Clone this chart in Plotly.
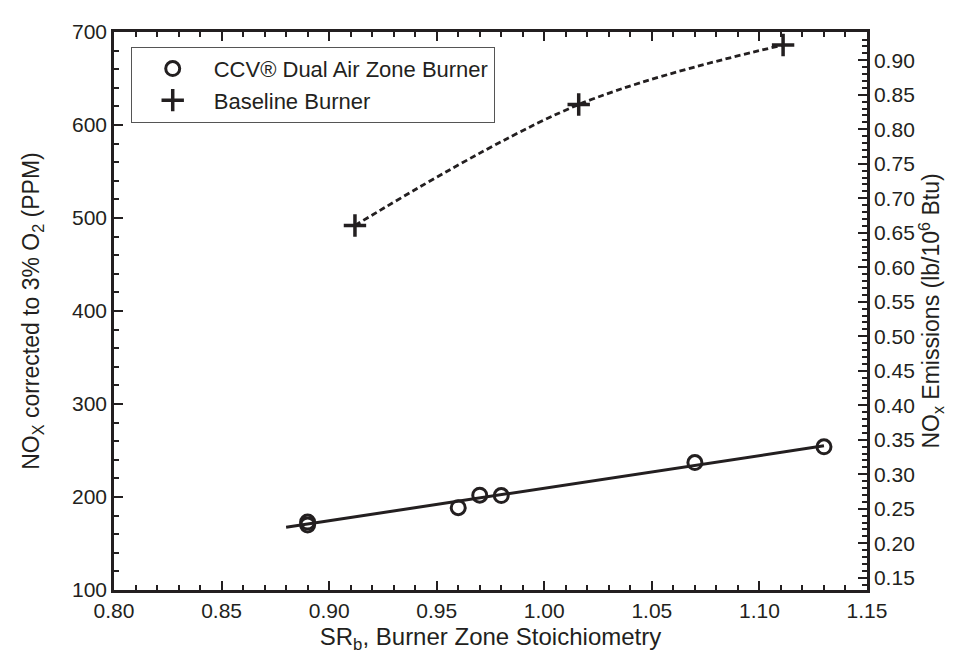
import plotly.graph_objects as go

# ---- data ----
ccv_sr = [0.89, 0.89, 0.96, 0.97, 0.98, 1.07, 1.13]
ccv_ppm = [173, 170, 188.5, 202, 201.5, 237, 254]

fit_sr = [0.880, 1.13]
fit_ppm = [167.5, 255]

base_sr = [0.912, 1.016, 1.111]
base_ppm = [492, 622, 686]

legend_names = ["CCV® Dual Air Zone Burner", "Baseline Burner"]

x_range = [0.80, 1.15]
y_range = [100, 700]
y2_range = [0.1322, 0.9409]

FONT = "Liberation Sans, Arial, Helvetica, sans-serif"
BLACK = "#231f20"

fig = go.Figure()

# fit line (solid)
fig.add_trace(go.Scatter(x=fit_sr, y=fit_ppm, mode="lines",
                         line=dict(color=BLACK, width=3), showlegend=False,
                         hoverinfo="skip"))
# baseline dashed curve
fig.add_trace(go.Scatter(x=base_sr, y=base_ppm, mode="lines",
                         line=dict(color=BLACK, width=2.8, dash="6px,3.5px", shape="spline"),
                         showlegend=False, hoverinfo="skip"))
# CCV circles
fig.add_trace(go.Scatter(x=ccv_sr, y=ccv_ppm, mode="markers",
                         marker=dict(symbol="circle-open", size=14, color=BLACK,
                                     line=dict(width=3, color=BLACK)),
                         name=legend_names[0], showlegend=True))
# Baseline crosses
fig.add_trace(go.Scatter(x=base_sr, y=base_ppm, mode="markers",
                         marker=dict(symbol="cross-thin", size=16, color=BLACK,
                                     line=dict(width=3.5, color=BLACK)),
                         name=legend_names[1], showlegend=True))
# empty trace on secondary axis so it renders
fig.add_trace(go.Scatter(x=[None], y=[None], yaxis="y2", showlegend=False,
                         hoverinfo="skip"))

axis_common = dict(
    showline=True, linecolor=BLACK, linewidth=2.5,
    ticks="inside", ticklen=9, tickwidth=2, tickcolor=BLACK,
    showgrid=False, zeroline=False,
    tickfont=dict(family=FONT, size=21, color=BLACK),
)

fig.update_layout(
    width=967, height=654,
    margin=dict(l=106, r=108, t=14, b=72),
    paper_bgcolor="white", plot_bgcolor="white",
    font=dict(family=FONT, color=BLACK),
    xaxis=dict(
        range=x_range, dtick=0.05, tick0=0.80, tickformat=".2f",
        mirror="ticks",
        minor=dict(dtick=0.01, ticks="inside", ticklen=5, tickwidth=1.5, tickcolor=BLACK),
        title=dict(text="SR<sub>b</sub>, Burner Zone Stoichiometry",
                   font=dict(family=FONT, size=24, color=BLACK), standoff=8),
        **axis_common,
    ),
    yaxis=dict(
        range=y_range, dtick=100, tick0=100,
        minor=dict(dtick=20, ticks="inside", ticklen=5, tickwidth=1.5, tickcolor=BLACK),
        title=dict(text="NO<sub>X</sub> corrected to 3% O<sub>2</sub> (PPM)",
                   font=dict(family=FONT, size=23, color=BLACK), standoff=26),
        **axis_common,
    ),
    yaxis2=dict(
        range=y2_range, dtick=0.05, tick0=0.15, tickformat=".2f",
        overlaying="y", side="right",
        minor=dict(dtick=0.01, ticks="inside", ticklen=5, tickwidth=1.5, tickcolor=BLACK),
        title=dict(text="NO<sub>x</sub> Emissions (lb/10<sup>6</sup> Btu)",
                   font=dict(family=FONT, size=23, color=BLACK), standoff=10),
        **axis_common,
    ),
    legend=dict(
        x=0.0222, y=0.9736, xanchor="left", yanchor="top",
        bgcolor="white", bordercolor="#555555", borderwidth=1,
        font=dict(family=FONT, size=22, color=BLACK),
        itemwidth=72, tracegroupgap=0,
    ),
)

fig.write_html("out.html")
